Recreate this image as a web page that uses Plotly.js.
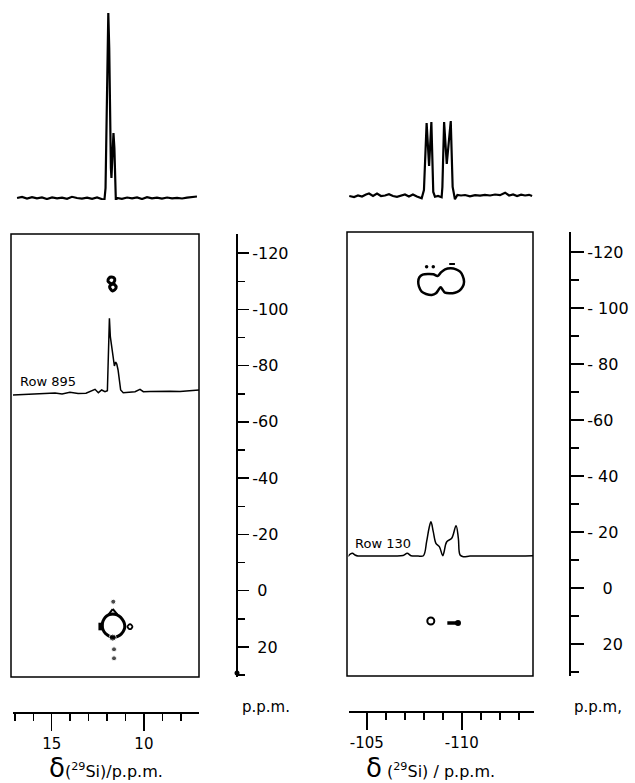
<!DOCTYPE html>
<html><head><meta charset="utf-8">
<script src="https://cdn.plot.ly/plotly-3.0.1.min.js"></script>
<style>html,body{margin:0;padding:0;background:#fff}#chart{width:635px;height:783px}</style>
</head><body><div id="chart"></div>
<script>
// ---------- LEFT PANEL DATA ----------
// top 1D projection (x in ppm, intensity arbitrary)
const leftTopPpm = [16.88,16.61,16.34,16.07,15.80,15.53,15.26,14.98,14.71,14.44,14.17,13.90,13.63,13.36,13.08,12.81,12.54,12.33,12.14,12.08,12.03,11.97,11.93,11.88,11.84,11.79,11.76,11.70,11.65,11.60,11.57,11.52,11.46,11.19,10.91,10.64,10.37,10.10,9.83,9.56,9.29,9.02,8.74,8.47,8.20,7.93,7.66,7.39,7.12];
const leftTopI = [0,1,-0.5,0.8,-0.3,0.5,-1,0.6,-0.4,0.3,-0.8,1.2,0,-0.6,0.4,-0.8,0.6,-0.5,-2,10,60,130,185,150,80,30,20,45,65,50,15,-3,0,-0.8,0.5,-0.3,0.6,-1,0.9,-0.3,0.4,-0.6,0.5,-0.3,0.2,-0.5,0.4,0.8,1.5];
// Row 895 trace
const leftRowPpm = [17.21,16.72,16.18,15.64,15.36,14.82,14.44,14.01,13.57,13.14,12.65,12.47,12.29,12.11,11.98,11.91,11.87,11.82,11.74,11.66,11.60,11.53,11.47,11.40,11.33,11.26,11.12,10.75,10.48,10.21,10.03,9.67,9.12,8.58,8.04,7.50,7.01];
const leftRowI = [-2,-1.5,-1,-1,-0.5,0,-1,0.7,-0.5,-0.3,3.7,0.3,3,1.3,2.3,43,74.7,56.3,44.7,32,27,31,29,23,9.7,3,0.3,1.3,1.3,3.7,1.3,1.5,2,1.8,1.5,2.5,3];
// contour outlines (x ppm, y ppm)
const eightX = [11.77,11.58,11.65,11.73,11.86,11.70,11.51,11.59,11.73,11.95,11.89,11.77];
const eightY = [-111.51,-110.80,-109.38,-109.02,-108.13,-106.53,-107.60,-108.85,-109.02,-110.09,-111.16,-111.51];
const ringX = [11.80,12.02,12.16,12.25,12.25,12.16,11.98,11.74,11.51,11.29,11.13,11.04,11.06,11.17,11.35,11.57,11.80];
const ringY = [8.41,9.02,10.08,11.61,13.18,14.60,15.77,16.59,16.48,15.77,14.60,13.18,11.61,10.19,9.02,8.41,8.41];
const loopX = [10.75,10.62,10.75,10.89,10.75];
const loopY = [11.93,12.82,13.71,12.82,11.93];
const triX = [11.69,11.91,11.44,11.69];
const triY = [6.53,8.41,8.41,6.53];
const blobX = [12.33,12.33];
const blobY = [11.4,14.1];
const leftDotX = [11.66,11.69,11.62,11.62];
const leftDotY = [3.93,16.7,20.86,24.06];
const leftDotSize = [5,7,5,5];
const leftYTickVals = [-120,-100,-80,-60,-40,-20,0,20];
const leftYTickText = ["-120","-100","-80","-60","-40","-20","\u00a00","\u00a020"];
const leftXTickVals = [15,10];
const leftXTickText = ["15","10"];

// ---------- RIGHT PANEL DATA ----------
const rightTopPpm = [-104.08,-104.33,-104.54,-104.75,-104.96,-105.12,-105.33,-105.54,-105.75,-105.96,-106.17,-106.38,-106.59,-106.80,-107.01,-107.22,-107.43,-107.64,-107.89,-108.01,-108.15,-108.28,-108.40,-108.50,-108.59,-108.75,-108.94,-108.98,-109.07,-109.21,-109.42,-109.52,-109.64,-109.77,-109.96,-110.17,-110.43,-110.70,-110.96,-111.22,-111.49,-111.75,-112.01,-112.28,-112.49,-112.70,-112.91,-113.12,-113.33,-113.54,-113.70];
const rightTopI = [0,-1,0.5,-0.5,1.5,2.5,0,2.5,0,0.5,1.8,0,-0.8,0.6,1.5,-0.5,1.5,-0.5,-2.3,6,73,30,74,4,-0.7,0,-1.3,9,74,32,75,9,-3.3,1,0.5,1,-0.3,0.8,0.3,1.2,0.5,1.5,0.8,3.3,0.5,1.5,0,1.3,0.5,1.2,0];
const rightRowPpm = [-104.01,-104.15,-104.25,-104.38,-104.54,-104.91,-105.43,-105.96,-106.49,-106.91,-107.13,-107.33,-107.70,-107.98,-108.15,-108.28,-108.38,-108.50,-108.64,-108.82,-109.00,-109.07,-109.21,-109.47,-109.70,-109.82,-109.91,-110.08,-110.43,-110.96,-111.49,-112.01,-112.54,-113.07,-113.75];
const rightRowI = [-0.5,2.2,2.7,1,0,0,0,0,0,0.5,2.7,0.3,0,0.3,14.3,28,34.3,24.3,12.7,9.3,0.3,4.3,14.3,17.7,30.3,17.7,1,-0.7,0,0,0,0,0,0,0.3];
const peanutX = [-107.71,-107.77,-107.94,-108.24,-108.50,-108.73,-108.89,-109.12,-109.42,-109.70,-109.91,-110.05,-110.12,-110.05,-109.87,-109.64,-109.38,-109.12,-109.00,-108.89,-108.77,-108.64,-108.42,-108.12,-107.89,-107.75,-107.71];
const peanutY = [-109.39,-110.96,-111.89,-112.14,-112.03,-111.43,-112.60,-113.82,-114.18,-113.82,-112.96,-111.43,-109.39,-107.60,-106.18,-105.46,-105.25,-105.46,-106.43,-107.39,-106.43,-105.25,-104.64,-105.0,-105.82,-107.60,-109.39];
const rightSpeckX = [-108.15,-108.50];
const rightSpeckY = [-114.75,-114.75];
const rightDashX = [-109.34,-109.64];
const rightDashY = [-115.71,-115.71];
const rightCircX = [-108.37];
const rightCircY = [11.79];
const rightBlobX = [-109.24,-109.80];
const rightBlobY = [12.5,12.5];
const rightYTickVals = [-120,-100,-80,-60,-40,-20,0,20];
const rightYTickText = ["-120","-\u00a0100","-\u00a080","-60","-\u00a040","-\u00a020","\u00a0\u00a0\u00a00","\u00a0\u00a0\u00a020"];
const rightXTickVals = [-105,-110];
const rightXTickText = ["-105","-110"];

// ---------- LAYOUT HELPERS ----------
const W = 635, H = 783;
const fx = p => p / W;
const fy = p => 1 - p / H;
const FONT = "DejaVu Sans";
const K = "black";

const line = (x, y, xa, ya, w, shape) => ({type:'scatter', mode:'lines', x, y, xaxis:xa, yaxis:ya,
  line:{color:K, width:w, shape:shape||'linear'}, hoverinfo:'skip', cliponaxis:false});

const traces = [
  line(leftTopPpm, leftTopI, 'x', 'y2', 2.2),
  line(leftRowPpm, leftRowI, 'x', 'y3', 1.5),
  line(eightX, eightY, 'x', 'y', 3, 'spline'),
  line(ringX, ringY, 'x', 'y', 3, 'spline'),
  line(loopX, loopY, 'x', 'y', 1.8, 'spline'),
  line(triX, triY, 'x', 'y', 2),
  line(blobX, blobY, 'x', 'y', 5),
  {type:'scatter', mode:'markers', x:leftDotX, y:leftDotY, xaxis:'x', yaxis:'y',
   marker:{color:K, size:leftDotSize, symbol:'circle'}, hoverinfo:'skip'},

  line(rightTopPpm, rightTopI, 'x2', 'y5', 2.2),
  line(rightRowPpm, rightRowI, 'x2', 'y6', 1.5, 'spline'),
  line(peanutX, peanutY, 'x2', 'y4', 2.5, 'spline'),
  line(rightDashX, rightDashY, 'x2', 'y4', 2),
  {type:'scatter', mode:'markers', x:rightSpeckX, y:rightSpeckY, xaxis:'x2', yaxis:'y4',
   marker:{color:K, size:3.5}, hoverinfo:'skip'},
  {type:'scatter', mode:'markers', x:rightCircX, y:rightCircY, xaxis:'x2', yaxis:'y4',
   marker:{color:K, size:7, symbol:'circle-open', line:{width:2, color:K}}, hoverinfo:'skip'},
  line(rightBlobX, rightBlobY, 'x2', 'y4', 3.5),
  {type:'scatter', mode:'markers', x:[rightBlobX[1]], y:[rightBlobY[1]], xaxis:'x2', yaxis:'y4',
   marker:{color:K, size:6}, hoverinfo:'skip'}
];

const tickFont = {family:FONT, size:16, color:K};
const hidden = {visible:false, fixedrange:true};

const layout = {
  width:W, height:H, margin:{l:0,r:0,t:0,b:0},
  paper_bgcolor:'white', plot_bgcolor:'rgba(0,0,0,0)', showlegend:false,
  font:{family:FONT, color:K},
  xaxis:{domain:[fx(13), fx(199)], range:[17.1, 7.01], anchor:'free', position:fy(713),
    showgrid:false, zeroline:false, showline:true, linecolor:K, linewidth:2,
    ticks:'outside', ticklen:17, tickwidth:1.5, tickcolor:K,
    tickmode:'array', tickvals:leftXTickVals, ticktext:leftXTickText, tickfont:{family:FONT,size:15,color:K},
    minor:{tick0:0, dtick:1, ticks:'outside', ticklen:7, tickwidth:1.5, tickcolor:K, showgrid:false}},
  yaxis:{domain:[fy(677), fy(234)], range:[30.7, -126.8], anchor:'free', position:fx(237), side:'right',
    showgrid:false, zeroline:false, showline:true, linecolor:K, linewidth:2,
    ticks:'outside', ticklen:11, tickwidth:1.5, tickcolor:K,
    tickmode:'array', tickvals:leftYTickVals, ticktext:leftYTickText, tickfont:tickFont,
    minor:{tick0:0, dtick:10, ticks:'outside', ticklen:7, tickwidth:1.5, tickcolor:K, showgrid:false}},
  yaxis2:Object.assign({domain:[fy(200), fy(5)], range:[-2, 193], anchor:'x'}, hidden),
  yaxis3:Object.assign({domain:[fy(400), fy(300)], range:[-7, 93], anchor:'x'}, hidden),

  xaxis2:{domain:[fx(348.5), fx(534)], range:[-104.04, -113.8], anchor:'free', position:fy(712),
    showgrid:false, zeroline:false, showline:true, linecolor:K, linewidth:2,
    ticks:'outside', ticklen:17, tickwidth:1.5, tickcolor:K,
    tickmode:'array', tickvals:rightXTickVals, ticktext:rightXTickText, tickfont:{family:FONT,size:15,color:K},
    minor:{tick0:0, dtick:1, ticks:'outside', ticklen:7, tickwidth:1.5, tickcolor:K, showgrid:false}},
  yaxis4:{domain:[fy(676), fy(232)], range:[31.43, -127.14], anchor:'free', position:fx(570), side:'right',
    showgrid:false, zeroline:false, showline:true, linecolor:K, linewidth:2,
    ticks:'outside', ticklen:13, tickwidth:1.5, tickcolor:K,
    tickmode:'array', tickvals:rightYTickVals, ticktext:rightYTickText, tickfont:tickFont,
    minor:{tick0:0, dtick:10, ticks:'outside', ticklen:8, tickwidth:1.5, tickcolor:K, showgrid:false}},
  yaxis5:Object.assign({domain:[fy(200), fy(5)], range:[-4, 191], anchor:'x2'}, hidden),
  yaxis6:Object.assign({domain:[fy(570), fy(500)], range:[-14, 56], anchor:'x2'}, hidden),

  shapes:[
    {type:'rect', xref:'paper', yref:'paper', x0:fx(11), x1:fx(199), y0:fy(677), y1:fy(234), line:{color:K, width:1.5}},
    {type:'rect', xref:'paper', yref:'paper', x0:fx(347), x1:fx(533), y0:fy(676), y1:fy(232), line:{color:K, width:1.5}},
    {type:'circle', xref:'paper', yref:'paper', x0:fx(234.5), x1:fx(239.5), y0:fy(675.5), y1:fy(670.5), fillcolor:K, line:{color:K, width:0}}
  ],
  annotations:[
    {xref:'paper', yref:'paper', x:fx(18), y:fy(381), xanchor:'left', yanchor:'middle', showarrow:false,
     text:'Row 895', font:{family:FONT, size:13, color:K}},
    {xref:'paper', yref:'paper', x:fx(353), y:fy(543), xanchor:'left', yanchor:'middle', showarrow:false,
     text:'Row 130', font:{family:FONT, size:13, color:K}},
    {xref:'paper', yref:'paper', x:fx(240), y:fy(707), xanchor:'left', yanchor:'middle', showarrow:false,
     text:'p.p.m.', font:{family:FONT, size:15, color:K}},
    {xref:'paper', yref:'paper', x:fx(572), y:fy(707), xanchor:'left', yanchor:'middle', showarrow:false,
     text:'p.p.m,', font:{family:FONT, size:15, color:K}},
    {xref:'paper', yref:'paper', x:fx(106), y:fy(768), xanchor:'center', yanchor:'middle', showarrow:false,
     text:'<span style="font-size:26px">δ</span>(<sup>29</sup>Si)/p.p.m.', font:{family:FONT, size:16, color:K}},
    {xref:'paper', yref:'paper', x:fx(431), y:fy(768), xanchor:'center', yanchor:'middle', showarrow:false,
     text:'<span style="font-size:26px">δ</span> (<sup>29</sup>Si) / p.p.m.', font:{family:FONT, size:16, color:K}}
  ]
};

Plotly.newPlot('chart', traces, layout, {staticPlot:true, displayModeBar:false});
</script></body></html>
